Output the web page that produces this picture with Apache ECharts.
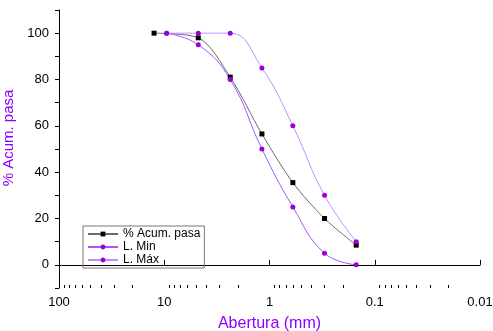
<!DOCTYPE html>
<html>
<head>
<meta charset="utf-8">
<script src="https://cdn.jsdelivr.net/npm/echarts@6/dist/echarts.min.js"></script>
<style>
  html, body { margin: 0; padding: 0; background: #fff; }
  #chart { width: 493px; height: 331px; }
</style>
</head>
<body>
<div id="chart"></div>
<script>
// abertura de tamices (mm)
var sizesMuestra = [12.5, 4.75, 2.36, 1.18, 0.6, 0.3, 0.15];
var sizesLimites = [9.5, 4.75, 2.36, 1.18, 0.6, 0.3, 0.15];
var acumPasa = [100, 98, 81, 56.5, 35.5, 20, 8.5];
var limMin = [100, 95, 80, 50, 25, 5, 0];
var limMax = [100, 100, 100, 85, 60, 30, 10];
var xTicks = [100, 10, 1, 0.1, 0.01];

function pares(xs, ys) {
  var out = [];
  for (var i = 0; i < xs.length; i++) out.push([xs[i], ys[i]]);
  return out;
}

// ticks menores 2..9 de cada decada
var minorTicks = [];
for (var d = 0.01; d < 100; d *= 10) {
  for (var k = 2; k <= 9; k++) minorTicks.push(+(d * k).toPrecision(3));
}

var titleColor = '#8f00ff';
var font = 'Liberation Sans, Arial, sans-serif';

var chart = echarts.init(document.getElementById('chart'));
chart.setOption({
  animation: false,
  grid: { left: 59, right: 13, top: 10, bottom: 43, containLabel: false, outerBoundsMode: 'none' },
  legend: {
    left: 83, top: 226, orient: 'vertical',
    itemWidth: 30, itemHeight: 6, itemGap: 1,
    padding: [2, 4, 2, 4],
    borderColor: '#777', borderWidth: 1,
    textStyle: { fontFamily: font, fontSize: 12, color: '#000' },
    data: ['% Acum. pasa', 'L. Min', 'L. Máx']
  },
  xAxis: [{
    type: 'log', logBase: 10, min: 0.01, max: 100, inverse: true,
    name: 'Abertura (mm)', nameLocation: 'middle', nameGap: 28,
    nameTextStyle: { color: titleColor, fontFamily: font, fontSize: 16 },
    axisLine: { lineStyle: { color: '#000' } },
    axisTick: { inside: true, length: 5, lineStyle: { color: '#000' } },
    axisLabel: {
      color: '#000', fontFamily: font, fontSize: 13, margin: 8,
      customValues: xTicks,
      formatter: function (v) { return String(v); }
    },
    splitLine: { show: false }
  }, {
    type: 'log', logBase: 10, min: 0.01, max: 100, inverse: true,
    position: 'bottom',
    axisLine: { show: false },
    axisTick: { inside: true, length: 3, customValues: minorTicks, lineStyle: { color: '#000' } },
    axisLabel: { show: false },
    splitLine: { show: false }
  }],
  yAxis: {
    type: 'value', min: -10, max: 110, interval: 10,
    name: '% Acum. pasa', nameLocation: 'middle', nameGap: 41, nameRotate: 90,
    nameTextStyle: { color: titleColor, fontFamily: font, fontSize: 15, padding: [0, 0, 0, 22] },
    axisLine: { show: true, lineStyle: { color: '#000' } },
    axisTick: { show: true, length: 4, lineStyle: { color: '#000' } },
    axisLabel: {
      color: '#000', fontFamily: font, fontSize: 13, margin: 10,
      formatter: function (v) { return (v >= 0 && v <= 100 && v % 20 === 0) ? v : ''; }
    },
    splitLine: { show: false }
  },
  series: [{
    name: '% Acum. pasa', type: 'line', smooth: 0.3,
    data: pares(sizesMuestra, acumPasa),
    symbol: 'rect', symbolSize: 5,
    itemStyle: { color: '#000' },
    lineStyle: { color: '#6b6b6b', width: 1 }
  }, {
    name: 'L. Min', type: 'line', smooth: 0.45,
    data: pares(sizesLimites, limMin),
    symbol: 'circle', symbolSize: 5,
    itemStyle: { color: '#9a00d6' },
    lineStyle: { color: '#a855ff', width: 1 }
  }, {
    name: 'L. Máx', type: 'line', smooth: 0.45,
    data: pares(sizesLimites, limMax),
    symbol: 'circle', symbolSize: 5,
    itemStyle: { color: '#9a00d6' },
    lineStyle: { color: '#c48cff', width: 1 }
  }]
});
</script>
</body>
</html>
